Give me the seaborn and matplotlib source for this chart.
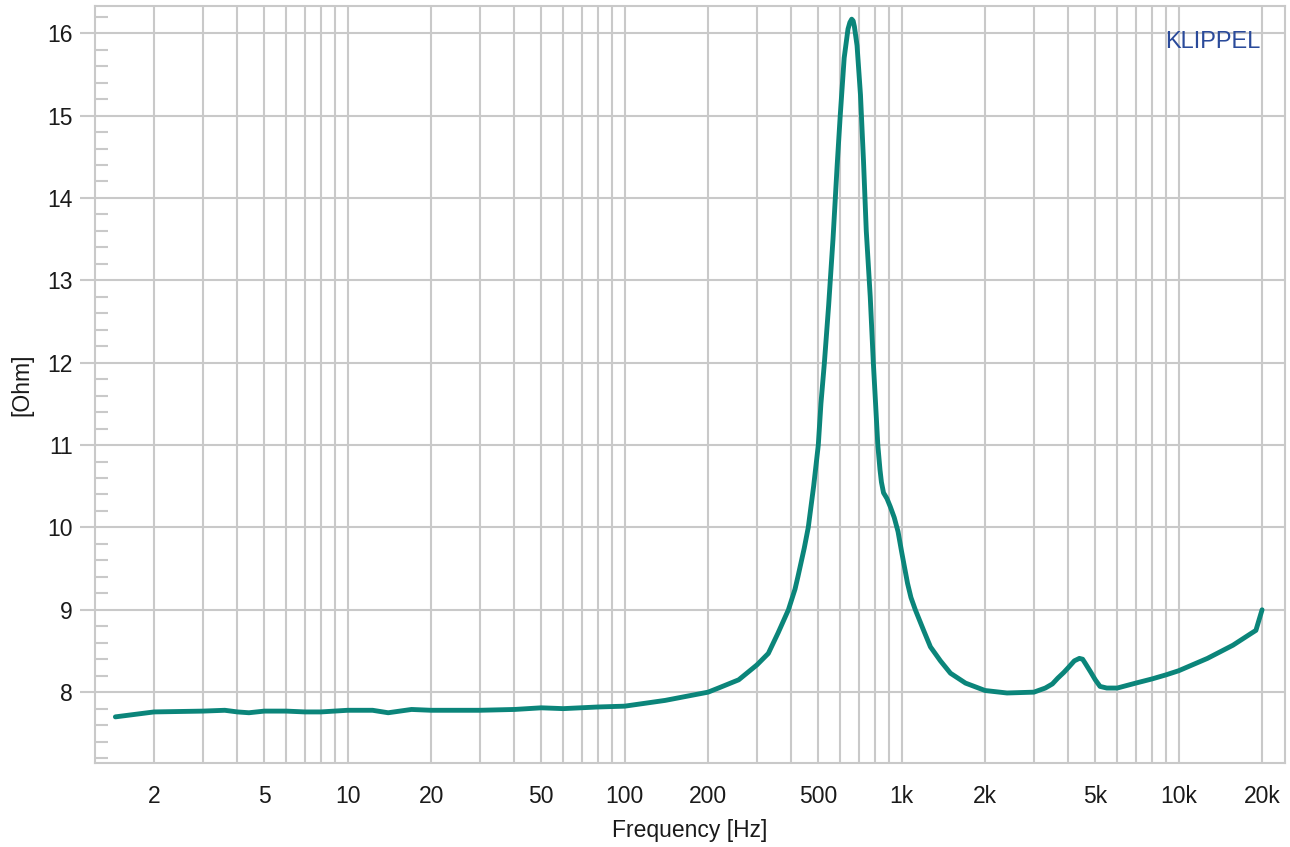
import numpy as np
import pandas as pd
import matplotlib
matplotlib.use("Agg")
import matplotlib.pyplot as plt
from matplotlib.ticker import FixedLocator, LogLocator, MultipleLocator, NullFormatter
import seaborn as sns

# impedance curve (Hz, Ohm)
freq_hz = [1.45, 2, 3, 3.6, 4, 4.4, 5, 6, 7, 8, 10, 12.3, 14, 17, 20, 30, 40, 50,
           60, 80, 100, 140, 200, 218, 258, 300, 330, 358, 390, 412, 422, 445,
           460, 481, 500, 511, 526, 545, 565, 585, 600, 620, 640, 650, 660, 668,
           675, 690, 710, 728, 745, 770, 790, 805, 820, 835, 845, 860, 885, 910,
           940, 970, 1000, 1050, 1080, 1120, 1200, 1270, 1380, 1500, 1700, 2000,
           2400, 3000, 3300, 3500, 3660, 3850, 4000, 4200, 4380, 4500, 4600,
           4800, 5000, 5200, 5500, 6000, 7000, 8000, 9000, 10000, 12700, 15700,
           18200, 19000, 20000]
impedance_ohm = [7.70, 7.76, 7.77, 7.78, 7.76, 7.75, 7.77, 7.77, 7.76, 7.76,
                 7.78, 7.78, 7.75, 7.79, 7.78, 7.78, 7.79, 7.81, 7.80, 7.82,
                 7.83, 7.90, 8.00, 8.05, 8.15, 8.33, 8.47, 8.72, 9.00, 9.25,
                 9.40, 9.75, 10.0, 10.5, 11.0, 11.5, 12.0, 12.7, 13.5, 14.4,
                 15.0, 15.7, 16.05, 16.13, 16.17, 16.15, 16.08, 15.85, 15.25,
                 14.45, 13.6, 12.8, 12.0, 11.5, 11.0, 10.7, 10.55, 10.42, 10.35,
                 10.25, 10.12, 9.95, 9.7, 9.32, 9.15, 9.0, 8.75, 8.55, 8.38,
                 8.23, 8.11, 8.02, 7.99, 8.00, 8.05, 8.10, 8.17, 8.24, 8.30,
                 8.38, 8.41, 8.40, 8.35, 8.25, 8.15, 8.07, 8.05, 8.05, 8.11,
                 8.16, 8.21, 8.26, 8.41, 8.57, 8.71, 8.75, 9.00]

x_ticks = [2, 5, 10, 20, 50, 100, 200, 500, 1000, 2000, 5000, 10000, 20000]
x_tick_labels = ["2", "5", "10", "20", "50", "100", "200", "500",
                 "1k", "2k", "5k", "10k", "20k"]
y_ticks = [8, 9, 10, 11, 12, 13, 14, 15, 16]

sns.set_theme(style="white")
plt.rcParams['font.family'] = ['Liberation Sans', 'DejaVu Sans']

grid_c = "#c9c9c9"
df = pd.DataFrame({"f": freq_hz, "z": impedance_ohm})

fig = plt.figure(figsize=(12.9, 8.47), dpi=100)
ax = fig.add_axes([95 / 1290, 1 - 763 / 847, 1190 / 1290, 757 / 847])

sns.lineplot(data=df, x="f", y="z", ax=ax, color="#0b857a", linewidth=3.5,
             sort=True, zorder=3)

ax.set_xscale("log")
ax.set_xlim(1.224, 24200)
ax.set_ylim(7.14, 16.33)

ax.xaxis.set_major_locator(FixedLocator(x_ticks))
ax.set_xticklabels(x_tick_labels)
ax.xaxis.set_minor_locator(LogLocator(base=10, subs=np.arange(1, 10)))
ax.xaxis.set_minor_formatter(NullFormatter())
ax.tick_params(axis="x", which="both", length=0, pad=16, labelsize=16.5,
               labelcolor="#1a1a1a")
ax.grid(True, axis="x", which="both", color=grid_c, linewidth=1.5)

ax.yaxis.set_major_locator(FixedLocator(y_ticks))
ax.yaxis.set_minor_locator(MultipleLocator(0.2))
ax.tick_params(axis="y", which="major", direction="out", length=11, width=1.5,
               color=grid_c, pad=5, labelsize=16.5, labelcolor="#1a1a1a", left=True)
ax.tick_params(axis="y", which="minor", direction="in", length=9.5, width=1.5,
               color=grid_c, left=True)
ax.grid(True, axis="y", which="major", color=grid_c, linewidth=1.5)
ax.set_axisbelow(True)

for s in ax.spines.values():
    s.set_color(grid_c)
    s.set_linewidth(1.5)
    s.set_visible(True)

ax.set_xlabel("Frequency [Hz]", fontsize=16.5, color="#1a1a1a", labelpad=8)
ax.set_ylabel("[Ohm]", fontsize=16.5, color="#1a1a1a", labelpad=10)

ax.text(0.979, 0.953, "KLIPPEL", transform=ax.transAxes, ha="right", va="center",
        fontsize=17, color="#2a4a9a")

fig.savefig("out.png", dpi=100)
